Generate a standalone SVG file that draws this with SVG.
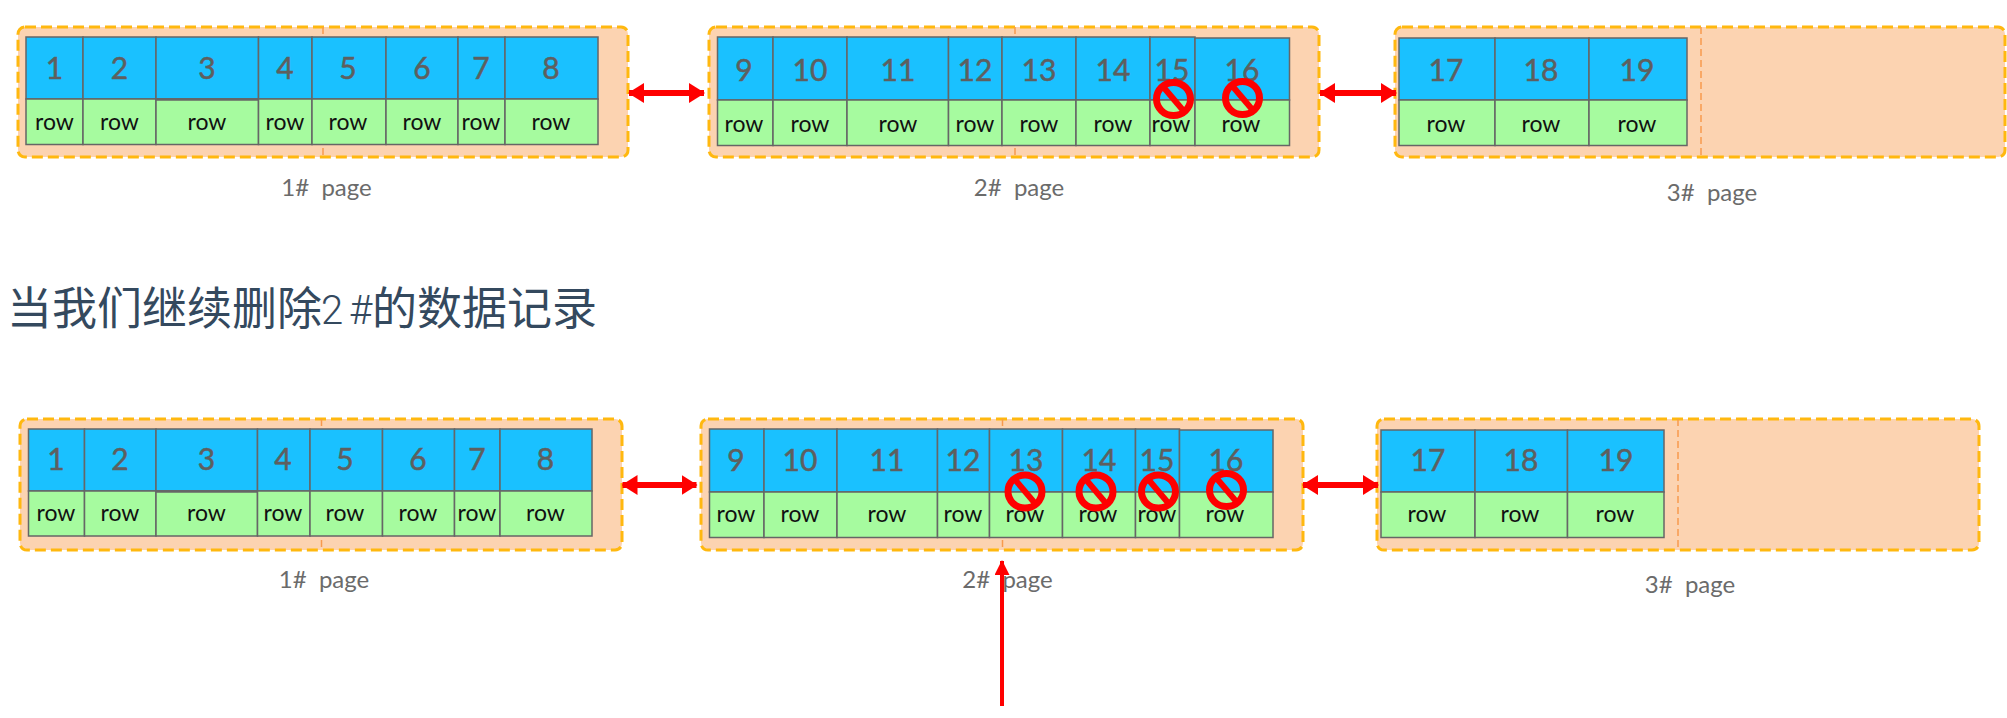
<svg xmlns="http://www.w3.org/2000/svg" width="2007" height="718" viewBox="0 0 2007 718">
<style>
.bg{fill:#fcd3b1;stroke:#ffb80f;stroke-width:3;stroke-dasharray:11 5}
.mid{stroke:#f79a4e;stroke-width:1.500;stroke-dasharray:7 4;fill:none}
.k{fill:#1ac1ff;stroke:#666;stroke-width:1.500}
.r{fill:#a6fb9f;stroke:#666;stroke-width:1.500}
.n{font:30px Lato,"Liberation Sans",sans-serif;fill:#5f5f5f;stroke:#5f5f5f;stroke-width:.5;text-anchor:middle}
.t{font:23px Lato,"Liberation Sans",sans-serif;fill:#111;text-anchor:middle}
.l{font:24px Lato,"Liberation Sans",sans-serif;fill:#6b6b6b;text-anchor:middle;white-space:pre}
.h{font:45px "Noto Sans CJK SC","Noto Sans",sans-serif;fill:#34495e}
.hm{font:300 40px Roboto,"Noto Sans",sans-serif;fill:#34495e}
.a{stroke:#f00;stroke-width:6;fill:none;marker-start:url(#ah);marker-end:url(#ah)}
.v{stroke:#f00;stroke-width:4;fill:none;marker-end:url(#ah2)}
.no ellipse{fill:none;stroke:#f00;stroke-width:7}
.no line{stroke:#f00;stroke-width:6}
</style>
<defs>
<marker id="ah" markerUnits="userSpaceOnUse" markerWidth="16" markerHeight="20" refX="15" refY="10" orient="auto-start-reverse"><path d="M0 0L16 10L0 20z" fill="#f00"/></marker>
<marker id="ah2" markerUnits="userSpaceOnUse" markerWidth="15" markerHeight="15" refX="14" refY="7.500" orient="auto"><path d="M0 0L15 7.500L0 15z" fill="#f00"/></marker>
<g id="nosign" class="no"><ellipse rx="17" ry="16.500"/><line x1="-11" y1="-13" x2="11" y2="13"/></g>
</defs>
<g id="top-page-1">
<rect class="bg" x="18" y="27" width="610" height="130" rx="7"/><path class="mid" d="M323 27V157"/>
<rect class="k" x="26" y="37" width="57" height="62"/><rect class="r" x="26" y="99" width="57" height="45.500"/><text class="n" x="54.500" y="79">1</text><text class="t" x="54.500" y="130">row</text>
<rect class="k" x="83" y="37" width="73" height="62"/><rect class="r" x="83" y="99" width="73" height="45.500"/><text class="n" x="119.500" y="79">2</text><text class="t" x="119.500" y="130">row</text>
<rect class="k" x="156" y="37" width="102.500" height="62"/><rect class="r" x="156" y="99" width="102.500" height="45.500"/><path d="M156 99.500h102.500" stroke="#666" stroke-width="2.500"/><text class="n" x="207" y="79">3</text><text class="t" x="207" y="130">row</text>
<rect class="k" x="258.500" y="37" width="53.500" height="62"/><rect class="r" x="258.500" y="99" width="53.500" height="45.500"/><text class="n" x="285" y="79">4</text><text class="t" x="285" y="130">row</text>
<rect class="k" x="312" y="37" width="74" height="62"/><rect class="r" x="312" y="99" width="74" height="45.500"/><text class="n" x="348" y="79">5</text><text class="t" x="348" y="130">row</text>
<rect class="k" x="386" y="37" width="72" height="62"/><rect class="r" x="386" y="99" width="72" height="45.500"/><text class="n" x="422" y="79">6</text><text class="t" x="422" y="130">row</text>
<rect class="k" x="458" y="37" width="47" height="62"/><rect class="r" x="458" y="99" width="47" height="45.500"/><text class="n" x="481" y="79">7</text><text class="t" x="481" y="130">row</text>
<rect class="k" x="505" y="37" width="93" height="62"/><rect class="r" x="505" y="99" width="93" height="45.500"/><text class="n" x="551" y="79">8</text><text class="t" x="551" y="130">row</text>
<text class="l" x="326.500" y="196">1#  page</text>
</g>
<g id="top-page-2">
<rect class="bg" x="709" y="27" width="610" height="130" rx="7"/><path class="mid" d="M1015 27V157"/>
<rect class="k" x="717.500" y="37" width="55.500" height="63"/><rect class="r" x="717.500" y="100" width="55.500" height="45.500"/><text class="n" x="744" y="81">9</text><text class="t" x="744" y="132">row</text>
<rect class="k" x="773" y="37" width="74" height="63"/><rect class="r" x="773" y="100" width="74" height="45.500"/><text class="n" x="810" y="81">10</text><text class="t" x="810" y="132">row</text>
<rect class="k" x="847" y="37" width="101.500" height="63"/><rect class="r" x="847" y="100" width="101.500" height="45.500"/><text class="n" x="898" y="81">11</text><text class="t" x="898" y="132">row</text>
<rect class="k" x="948.500" y="37" width="53.500" height="63"/><rect class="r" x="948.500" y="100" width="53.500" height="45.500"/><text class="n" x="975" y="81">12</text><text class="t" x="975" y="132">row</text>
<rect class="k" x="1002" y="37" width="74" height="63"/><rect class="r" x="1002" y="100" width="74" height="45.500"/><text class="n" x="1039" y="81">13</text><text class="t" x="1039" y="132">row</text>
<rect class="k" x="1076" y="37" width="74" height="63"/><rect class="r" x="1076" y="100" width="74" height="45.500"/><text class="n" x="1113" y="81">14</text><text class="t" x="1113" y="132">row</text>
<rect class="k" x="1150" y="37" width="45" height="63"/><rect class="r" x="1150" y="100" width="45" height="45.500"/><text class="n" x="1172" y="81">15</text><text class="t" x="1171" y="132">row</text>
<rect class="k" x="1195" y="38" width="94.500" height="62"/><rect class="r" x="1195" y="100" width="94.500" height="45.500"/><text class="n" x="1242" y="81">16</text><text class="t" x="1241" y="132">row</text>
<use href="#nosign" x="1173.500" y="99"/><use href="#nosign" x="1242.500" y="98"/>
<text class="l" x="1019" y="196">2#  page</text>
</g>
<g id="top-page-3">
<rect class="bg" x="1395" y="27" width="610" height="130" rx="7"/><path class="mid" d="M1701 27V157"/>
<rect class="k" x="1399" y="38" width="96" height="62"/><rect class="r" x="1399" y="100" width="96" height="45.500"/><text class="n" x="1446" y="81">17</text><text class="t" x="1446" y="132">row</text>
<rect class="k" x="1495" y="38" width="94" height="62"/><rect class="r" x="1495" y="100" width="94" height="45.500"/><text class="n" x="1541" y="81">18</text><text class="t" x="1541" y="132">row</text>
<rect class="k" x="1589" y="38" width="98" height="62"/><rect class="r" x="1589" y="100" width="98" height="45.500"/><text class="n" x="1637" y="81">19</text><text class="t" x="1637" y="132">row</text>
<text class="l" x="1712" y="201">3#  page</text>
</g>
<g id="heading"><text class="h" x="7" y="325">当我们继续删除</text><text class="hm" x="321" y="324">2</text><text class="hm" x="349" y="324">#</text><text class="h" x="372" y="325">的数据记录</text></g>
<g id="bottom-page-1">
<rect class="bg" x="20" y="419" width="602" height="131" rx="7"/><path class="mid" d="M321.500 419V550"/>
<rect class="k" x="28.500" y="429" width="56" height="62"/><rect class="r" x="28.500" y="491" width="56" height="45"/><text class="n" x="56" y="470">1</text><text class="t" x="56" y="521">row</text>
<rect class="k" x="84.500" y="429" width="71.500" height="62"/><rect class="r" x="84.500" y="491" width="71.500" height="45"/><text class="n" x="120" y="470">2</text><text class="t" x="120" y="521">row</text>
<rect class="k" x="156" y="429" width="101.500" height="62"/><rect class="r" x="156" y="491" width="101.500" height="45"/><path d="M156 491.500h101.500" stroke="#666" stroke-width="2.500"/><text class="n" x="206.500" y="470">3</text><text class="t" x="206.500" y="521">row</text>
<rect class="k" x="257.500" y="429" width="52.500" height="62"/><rect class="r" x="257.500" y="491" width="52.500" height="45"/><text class="n" x="283" y="470">4</text><text class="t" x="283" y="521">row</text>
<rect class="k" x="310" y="429" width="72.500" height="62"/><rect class="r" x="310" y="491" width="72.500" height="45"/><text class="n" x="345" y="470">5</text><text class="t" x="345" y="521">row</text>
<rect class="k" x="382.500" y="429" width="72" height="62"/><rect class="r" x="382.500" y="491" width="72" height="45"/><text class="n" x="418" y="470">6</text><text class="t" x="418" y="521">row</text>
<rect class="k" x="454.500" y="429" width="45.500" height="62"/><rect class="r" x="454.500" y="491" width="45.500" height="45"/><text class="n" x="477" y="470">7</text><text class="t" x="477" y="521">row</text>
<rect class="k" x="500" y="429" width="92" height="62"/><rect class="r" x="500" y="491" width="92" height="45"/><text class="n" x="545.500" y="470">8</text><text class="t" x="545.500" y="521">row</text>
<text class="l" x="324" y="588">1#  page</text>
</g>
<g id="bottom-page-2">
<rect class="bg" x="701" y="419" width="602" height="131" rx="7"/><path class="mid" d="M1002.500 419V550"/>
<rect class="k" x="709.500" y="429" width="54.500" height="63"/><rect class="r" x="709.500" y="492" width="54.500" height="45.500"/><text class="n" x="736" y="471">9</text><text class="t" x="736" y="522">row</text>
<rect class="k" x="764" y="429" width="73" height="63"/><rect class="r" x="764" y="492" width="73" height="45.500"/><text class="n" x="800" y="471">10</text><text class="t" x="800" y="522">row</text>
<rect class="k" x="837" y="429" width="100.500" height="63"/><rect class="r" x="837" y="492" width="100.500" height="45.500"/><text class="n" x="887" y="471">11</text><text class="t" x="887" y="522">row</text>
<rect class="k" x="937.500" y="429" width="52" height="63"/><rect class="r" x="937.500" y="492" width="52" height="45.500"/><text class="n" x="963" y="471">12</text><text class="t" x="963" y="522">row</text>
<rect class="k" x="989.500" y="429" width="73" height="63"/><rect class="r" x="989.500" y="492" width="73" height="45.500"/><text class="n" x="1026" y="471">13</text><text class="t" x="1025" y="522">row</text>
<rect class="k" x="1062.500" y="429" width="73" height="63"/><rect class="r" x="1062.500" y="492" width="73" height="45.500"/><text class="n" x="1099" y="471">14</text><text class="t" x="1098" y="522">row</text>
<rect class="k" x="1135.500" y="429" width="44" height="63"/><rect class="r" x="1135.500" y="492" width="44" height="45.500"/><text class="n" x="1157" y="471">15</text><text class="t" x="1157" y="522">row</text>
<rect class="k" x="1179.500" y="430" width="93.500" height="62"/><rect class="r" x="1179.500" y="492" width="93.500" height="45.500"/><text class="n" x="1226" y="471">16</text><text class="t" x="1225" y="522">row</text>
<use href="#nosign" x="1025" y="491.500"/><use href="#nosign" x="1096" y="491.500"/><use href="#nosign" x="1158.500" y="491.500"/><use href="#nosign" x="1226.500" y="490"/>
<text class="l" x="1007.500" y="588">2#  page</text>
</g>
<g id="bottom-page-3">
<rect class="bg" x="1377" y="419" width="602" height="131" rx="7"/><path class="mid" d="M1678 419V550"/>
<rect class="k" x="1381" y="430" width="94" height="62"/><rect class="r" x="1381" y="492" width="94" height="45.500"/><text class="n" x="1428" y="471">17</text><text class="t" x="1427" y="522">row</text>
<rect class="k" x="1475" y="430" width="92.500" height="62"/><rect class="r" x="1475" y="492" width="92.500" height="45.500"/><text class="n" x="1521" y="471">18</text><text class="t" x="1520" y="522">row</text>
<rect class="k" x="1567.500" y="430" width="96.500" height="62"/><rect class="r" x="1567.500" y="492" width="96.500" height="45.500"/><text class="n" x="1616" y="471">19</text><text class="t" x="1615" y="522">row</text>
<text class="l" x="1690" y="593">3#  page</text>
</g>
<g id="connectors">
<path class="a" d="M629 93H704"/><path class="a" d="M1320 93H1396"/>
<path class="a" d="M622.500 485H696.500"/><path class="a" d="M1303 485H1378"/>
<path class="v" d="M1002 706V561"/>
</g>
</svg>
